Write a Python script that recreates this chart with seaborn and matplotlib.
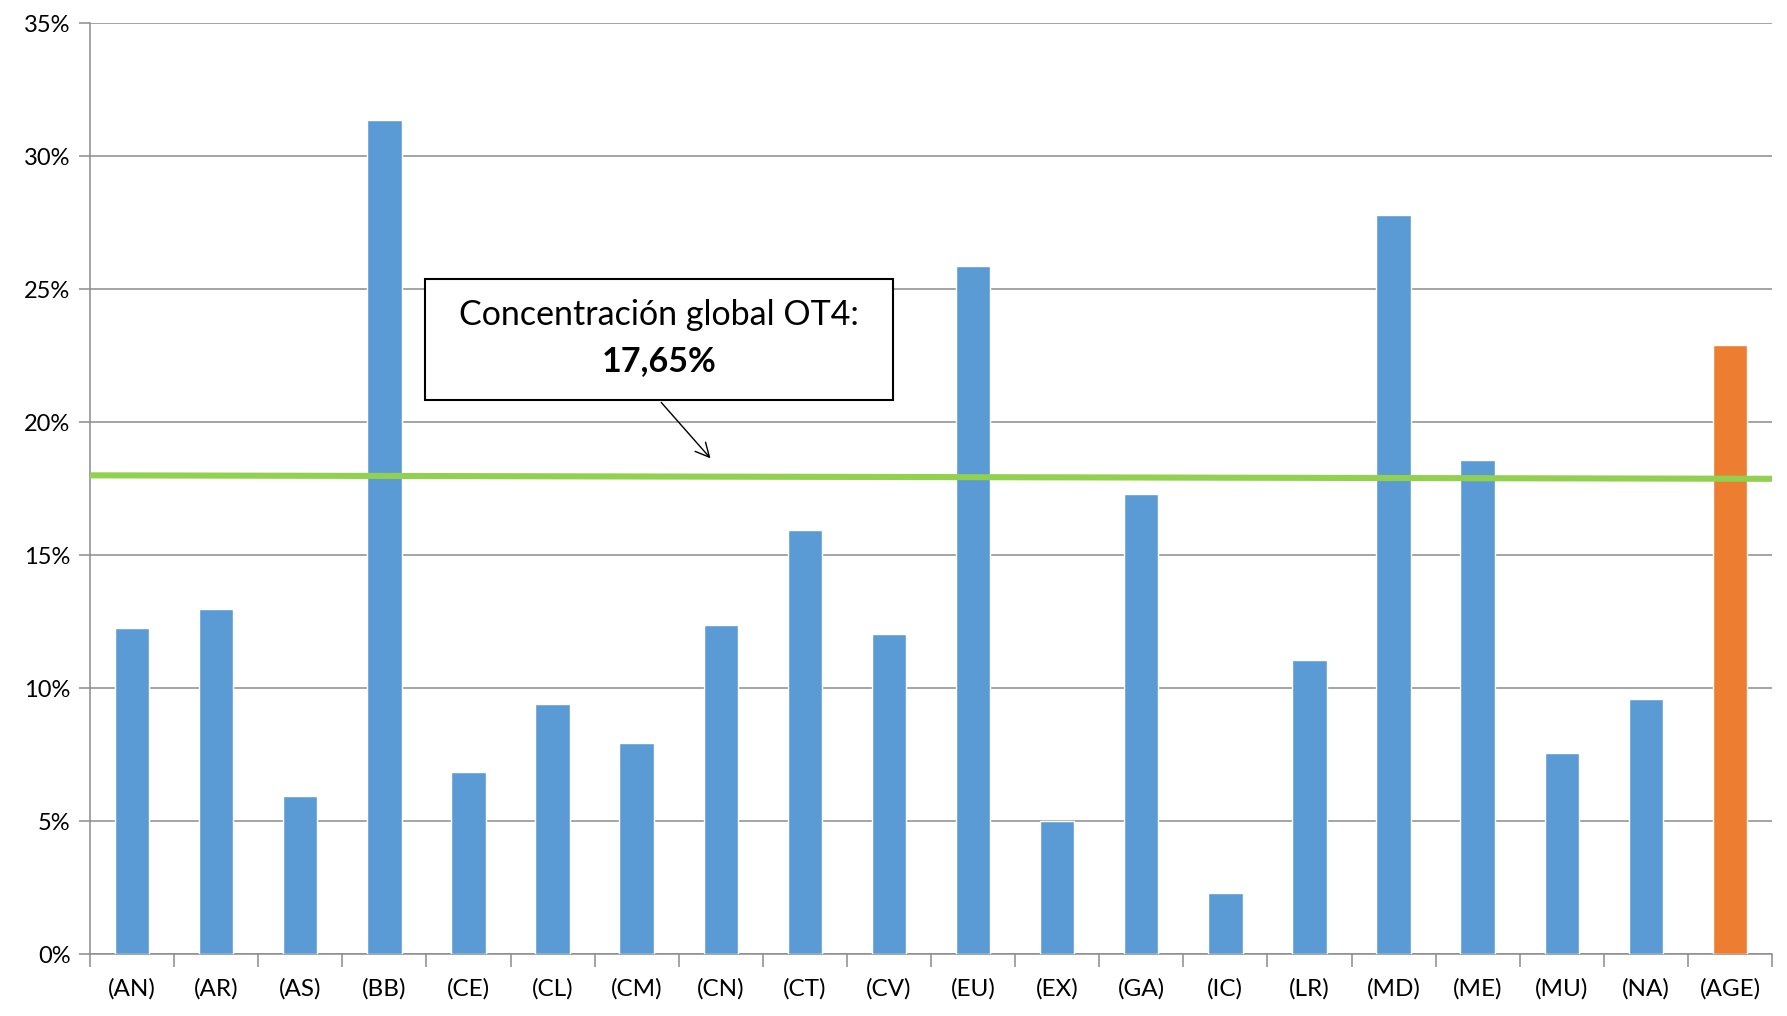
import matplotlib
matplotlib.use("Agg")
import matplotlib.pyplot as plt
import seaborn as sns
import pandas as pd
from matplotlib.patches import Rectangle
from matplotlib.ticker import FixedLocator, FuncFormatter

categories = ["(AN)", "(AR)", "(AS)", "(BB)", "(CE)", "(CL)", "(CM)", "(CN)", "(CT)", "(CV)",
              "(EU)", "(EX)", "(GA)", "(IC)", "(LR)", "(MD)", "(ME)", "(MU)", "(NA)", "(AGE)"]
values = [12.25, 12.98, 5.95, 31.36, 6.85, 9.42, 7.93, 12.38, 15.94, 12.04,
          25.88, 5.01, 17.31, 2.31, 11.05, 27.80, 18.59, 7.58, 9.60, 22.88]
global_line = [18.0, 17.87]
yticks = [0, 5, 10, 15, 20, 25, 30, 35]
annotation_line1 = "Concentración global OT4:"
annotation_line2 = "17,65%"

blue = "#5B9BD5"
orange = "#ED7D31"
green = "#92D050"
grid_col = "#8C8C8C"

sns.set_theme(style="white")
plt.rcParams['font.family'] = ['Lato', 'DejaVu Sans']

df = pd.DataFrame({"cat": categories, "val": values})
palette = {c: (orange if c == "(AGE)" else blue) for c in categories}

fig = plt.figure(figsize=(17.87, 10.16), dpi=100)
ax = fig.add_axes([90/1787, 1-954.3/1016, (1772-90)/1787, (954.3-23)/1016])

sns.barplot(data=df, x="cat", y="val", hue="cat", palette=palette, width=0.41,
            legend=False, ax=ax, saturation=1, zorder=3)

ax.set_xlim(-0.5, len(categories) - 0.5)
ax.set_ylim(0, 35)
ax.set_yticks(yticks)
ax.yaxis.set_major_formatter(FuncFormatter(lambda v, p: f"{int(v)}%"))
ax.grid(axis="y", color=grid_col, linewidth=1.1, zorder=0)
ax.set_axisbelow(True)
ax.set_xlabel("")
ax.set_ylabel("")

# green global line
ax.plot([-0.5, len(categories) - 0.5], global_line, color=green, linewidth=4.4, zorder=4,
        solid_capstyle="butt")

for s in ["top", "right"]:
    ax.spines[s].set_visible(False)
ax.spines["left"].set_color(grid_col)
ax.spines["bottom"].set_color(grid_col)
ax.spines["left"].set_linewidth(1.1)
ax.spines["bottom"].set_linewidth(1.1)

ax.tick_params(axis="y", which="major", length=8, color=grid_col, width=1.1,
               labelsize=17, pad=6, left=True, labelcolor="#000000")
ax.tick_params(axis="x", which="major", length=0, labelsize=17.5, pad=17, labelcolor="#000000")
ax.xaxis.set_minor_locator(FixedLocator([i - 0.5 for i in range(len(categories) + 1)]))
ax.tick_params(axis="x", which="minor", length=9, color=grid_col, width=1.1, bottom=True)

# annotation box
x0, x1 = 3.48, 9.05
y0, y1 = 20.82, 25.38
ax.add_patch(Rectangle((x0, y0), x1 - x0, y1 - y0, facecolor="white", edgecolor="black",
                       linewidth=1.5, zorder=6))
xc = (x0 + x1) / 2
ax.text(xc, 24.02, annotation_line1, ha="center", va="center", fontsize=24.5, zorder=7, color="black")
ax.text(xc, 22.3, annotation_line2, ha="center", va="center", fontsize=24.5, fontweight="bold",
        zorder=7, color="black")
ax.annotate("", xy=(6.9, 18.56), xytext=(6.27, y0),
            arrowprops=dict(arrowstyle="->", color="black", lw=1.0, mutation_scale=25), zorder=7)

fig.savefig("out.png", dpi=100)
